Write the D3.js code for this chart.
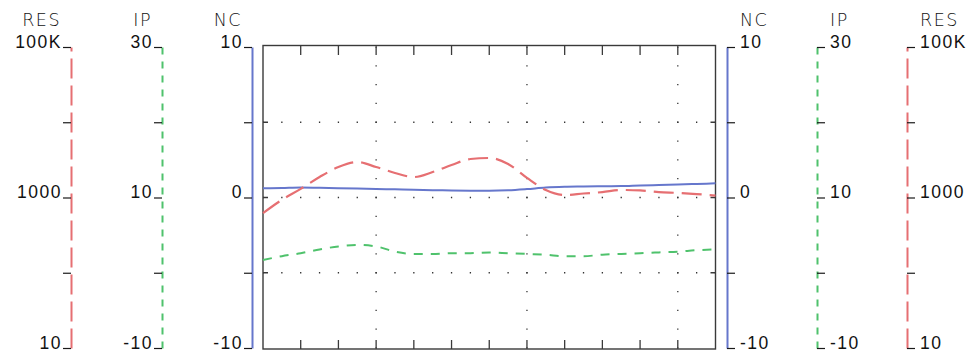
<!DOCTYPE html>
<html>
<head>
<meta charset="utf-8">
<script src="https://cdn.jsdelivr.net/npm/d3@7"></script>
<style>
  html, body { margin: 0; padding: 0; background: #fff; }
  svg { display: block; font-family: "DejaVu Sans", sans-serif; }
  .axis text { font-size: 17.5px; font-weight: 200; letter-spacing: 1.5px; fill: #111; }
  .axis .tick line { stroke: #1a1a1a; stroke-width: 1.2; }
  .axis-title { font-size: 17.5px; font-weight: 200; letter-spacing: 1.5px; fill: #111; }
</style>
</head>
<body>
<div id="chart"></div>
<script>
// sample positions along the x axis (tick units)
const steps = [0, 0.5, 1, 1.5, 2, 2.5, 3, 3.5, 4, 4.5, 5, 5.5, 6, 6.5, 7, 7.5, 8, 8.5, 9, 9.5, 10, 10.5, 11, 11.5, 12];

const resValues = [620, 930, 1300, 1870, 2540, 2960, 2540, 2120, 1870, 2180, 2700, 3250, 3350, 2790, 1820, 1260, 1080, 1130, 1180, 1260, 1240, 1180, 1150, 1110, 1060];
const ipValues = [1.7, 2.2, 2.6, 3.1, 3.5, 3.7, 3.5, 2.8, 2.5, 2.5, 2.6, 2.6, 2.7, 2.6, 2.5, 2.4, 2.2, 2.2, 2.4, 2.5, 2.6, 2.7, 2.8, 3.0, 3.1];
const ncValues = [0.61, 0.63, 0.66, 0.64, 0.62, 0.60, 0.56, 0.54, 0.51, 0.49, 0.46, 0.45, 0.45, 0.48, 0.56, 0.66, 0.71, 0.73, 0.75, 0.76, 0.80, 0.83, 0.86, 0.90, 0.94];

const xTicks = [1, 2, 3, 4, 5, 6, 7, 8, 9, 10, 11];
const xGrid = [3, 7, 11];

const resTicks = [10, 100, 1000, 10000, 100000];
const resTickLabels = ["10", "", "1000", "", "100K"];
const ipTicks = [-10, 0, 10, 20, 30];
const ipTickLabels = ["-10", "", "10", "", "30"];
const ncTicks = [-10, -5, 0, 5, 10];
const ncTickLabels = ["-10", "", "0", "", "10"];

const colors = { res: "#e66f72", ip: "#4fc26c", nc: "#6677cc" };

const width = 970;
const height = 359;
const margin = { top: 47, right: 254, bottom: 11, left: 263 };
const plotRight = width - margin.right - 0.5;
const plotBottom = height - margin.bottom;

const x = d3.scaleLinear().domain([0, 12]).range([margin.left, plotRight]);
const yNC = d3.scaleLinear().domain([-10, 10]).range([plotBottom, margin.top]);
const yIP = d3.scaleLinear().domain([-10, 30]).range([plotBottom, margin.top]);
const yRES = d3.scaleLog().domain([10, 100000]).range([plotBottom, margin.top]);

const svg = d3.select("#chart")
  .append("svg")
  .attr("width", width)
  .attr("height", height)
  .attr("viewBox", [0, 0, width, height]);

// dotted grid: dots every half tick step
const gGrid = svg.append("g").attr("class", "grid");
const dx = x(0.5) - x(0);
const dy = yNC(0) - yNC(1.25);
gGrid.selectAll(".grid-h")
  .data([-5, 0, 5])
  .join("line")
  .attr("class", "grid-h")
  .attr("x1", x(0))
  .attr("x2", x(12))
  .attr("y1", (d) => yNC(d))
  .attr("y2", (d) => yNC(d))
  .attr("stroke", "#333")
  .attr("stroke-width", 1.3)
  .attr("stroke-dasharray", `1.3 ${dx - 1.3}`)
  .attr("stroke-dashoffset", -dx + 0.65);
gGrid.selectAll(".grid-v")
  .data(xGrid)
  .join("line")
  .attr("class", "grid-v")
  .attr("x1", (d) => x(d))
  .attr("x2", (d) => x(d))
  .attr("y1", yNC(-10))
  .attr("y2", yNC(10))
  .attr("stroke", "#333")
  .attr("stroke-width", 1.3)
  .attr("stroke-dasharray", `1.3 ${dy - 1.3}`)
  .attr("stroke-dashoffset", -dy + 0.65);

// frame with inner ticks
const gFrame = svg.append("g").attr("class", "frame");
gFrame.append("rect")
  .attr("x", x(0))
  .attr("y", yNC(10) - 1.5)
  .attr("width", x(12) - x(0))
  .attr("height", yNC(-10) - yNC(10) + 2.5)
  .attr("fill", "none")
  .attr("stroke", "#3a3a3a")
  .attr("stroke-width", 1.4);
gFrame.selectAll(".tick-top")
  .data(xTicks)
  .join("line")
  .attr("x1", (d) => x(d))
  .attr("x2", (d) => x(d))
  .attr("y1", yNC(10) - 1.5)
  .attr("y2", yNC(10) + 8)
  .attr("stroke", "#3a3a3a")
  .attr("stroke-width", 1.3);
gFrame.selectAll(".tick-bottom")
  .data(xTicks)
  .join("line")
  .attr("x1", (d) => x(d))
  .attr("x2", (d) => x(d))
  .attr("y1", yNC(-10) + 1)
  .attr("y2", yNC(-10) - 8)
  .attr("stroke", "#3a3a3a")
  .attr("stroke-width", 1.3);
gFrame.selectAll(".tick-side")
  .data([-5, 0, 5].flatMap((d) => [[x(0), 5, d], [x(12), -5, d]]))
  .join("line")
  .attr("x1", (d) => d[0])
  .attr("x2", (d) => d[0] + d[1])
  .attr("y1", (d) => yNC(d[2]))
  .attr("y2", (d) => yNC(d[2]))
  .attr("stroke", "#3a3a3a")
  .attr("stroke-width", 1.5);

// data lines
const line = (scale) =>
  d3.line()
    .x((d, i) => x(steps[i]))
    .y((d) => scale(d))
    .curve(d3.curveMonotoneX);

const gLines = svg.append("g").attr("class", "lines");
gLines.append("path")
  .attr("d", line(yIP)(ipValues))
  .attr("fill", "none")
  .attr("stroke", colors.ip)
  .attr("stroke-width", 2)
  .attr("stroke-dasharray", "9 8");
gLines.append("path")
  .attr("d", line(yNC)(ncValues))
  .attr("fill", "none")
  .attr("stroke", colors.nc)
  .attr("stroke-width", 2);
gLines.append("path")
  .attr("d", line(yRES)(resValues))
  .attr("fill", "none")
  .attr("stroke", colors.res)
  .attr("stroke-width", 2.2)
  .attr("stroke-dasharray", "20 8");

// side axes
const axes = [
  { side: "left", pos: 71, scale: yRES, ticks: resTicks, labels: resTickLabels, title: "RES", color: colors.res, dash: "20 7" },
  { side: "left", pos: 162, scale: yIP, ticks: ipTicks, labels: ipTickLabels, title: "IP", color: colors.ip, dash: "7 7" },
  { side: "left", pos: 252, scale: yNC, ticks: ncTicks, labels: ncTickLabels, title: "NC", color: colors.nc, dash: null },
  { side: "right", pos: 727, scale: yNC, ticks: ncTicks, labels: ncTickLabels, title: "NC", color: colors.nc, dash: null },
  { side: "right", pos: 817, scale: yIP, ticks: ipTicks, labels: ipTickLabels, title: "IP", color: colors.ip, dash: "7 7" },
  { side: "right", pos: 907, scale: yRES, ticks: resTicks, labels: resTickLabels, title: "RES", color: colors.res, dash: "20 7" },
];

axes.forEach((a) => {
  const gen = (a.side === "left" ? d3.axisLeft(a.scale) : d3.axisRight(a.scale))
    .tickValues(a.ticks)
    .tickFormat((d, i) => a.labels[i])
    .tickSize(8)
    .tickPadding(a.side === "left" ? 1 : 5)
    .tickSizeOuter(0);

  const g = svg.append("g")
    .attr("class", "axis")
    .attr("transform", `translate(${a.pos},0)`)
    .call(gen);

  g.select(".domain")
    .attr("stroke", a.color)
    .attr("stroke-width", 2)
    .attr("stroke-dasharray", a.dash);
  g.selectAll(".tick text").attr("dy", "0.02em");

  svg.append("text")
    .attr("class", "axis-title")
    .attr("x", a.side === "left" ? a.pos - 10 : a.pos + 13)
    .attr("y", 26)
    .attr("text-anchor", a.side === "left" ? "end" : "start")
    .text(a.title);
});
</script>
</body>
</html>
